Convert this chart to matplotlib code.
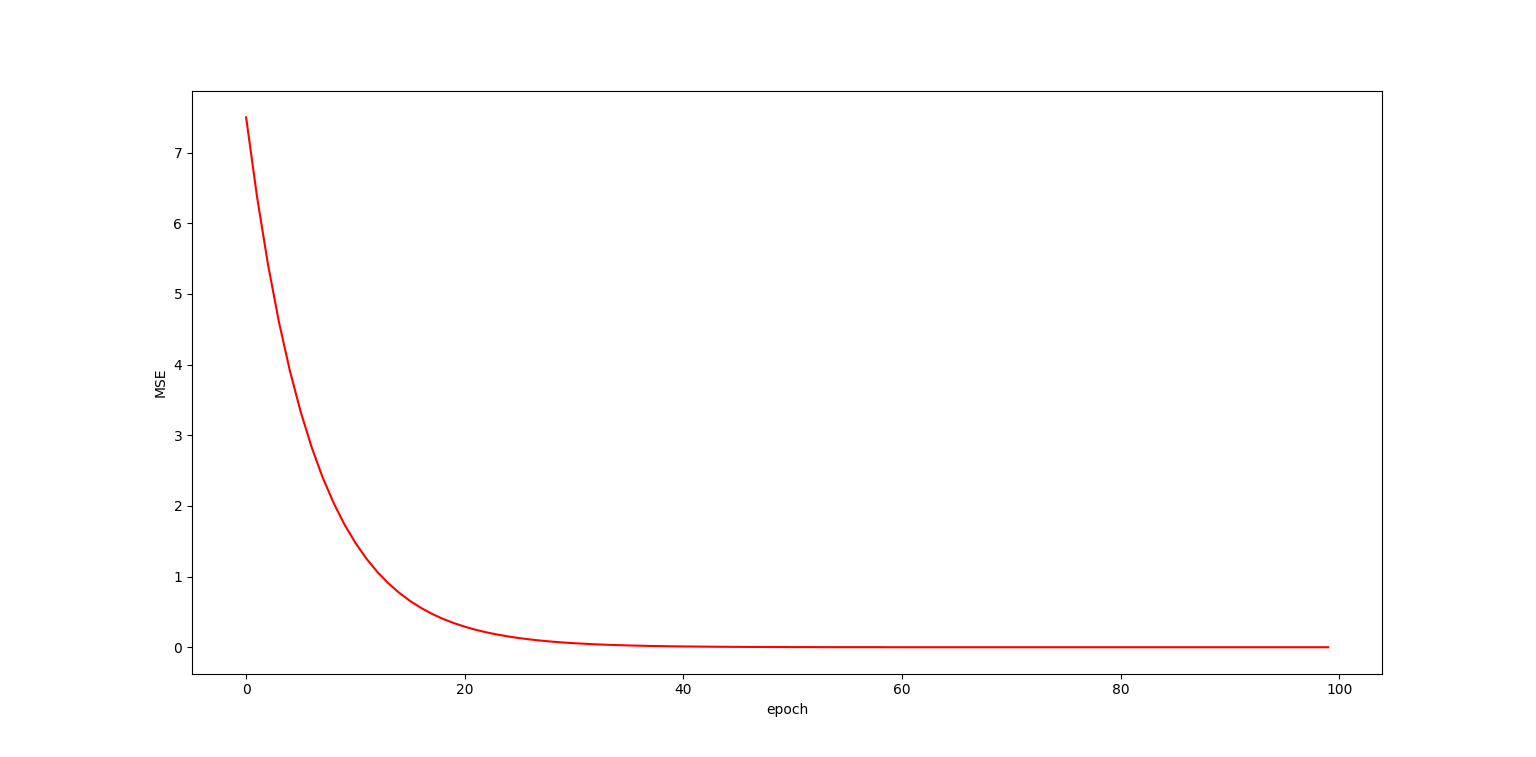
import matplotlib
matplotlib.use('Agg')
import matplotlib.pyplot as plt

# MSE per epoch
mse_head = [7.5, 6.375, 5.419, 4.606, 3.915, 3.328, 2.829, 2.404, 2.044, 1.737,
	1.477, 1.255, 1.067, 0.907, 0.771, 0.655, 0.557, 0.473, 0.402, 0.342,
	0.291, 0.247, 0.210, 0.179, 0.152, 0.129, 0.110, 0.093, 0.079, 0.067,
	0.057, 0.049, 0.041, 0.035, 0.030, 0.025, 0.022, 0.018, 0.016, 0.013,
	0.011, 0.010, 0.008, 0.007, 0.006, 0.005, 0.004, 0.004, 0.003, 0.003,
	0.002, 0.002, 0.002, 0.001, 0.001, 0.001, 0.001, 0.001, 0.001, 0.0]
mse_tail = [0.0] * 40
mse = mse_head + mse_tail
epochs = list(range(len(mse)))

fig = plt.figure(figsize=(15.36, 7.57), dpi=100)
plt.plot(epochs, mse, color='red')
plt.xlabel('epoch')
plt.ylabel('MSE')

plt.savefig('out.png')
